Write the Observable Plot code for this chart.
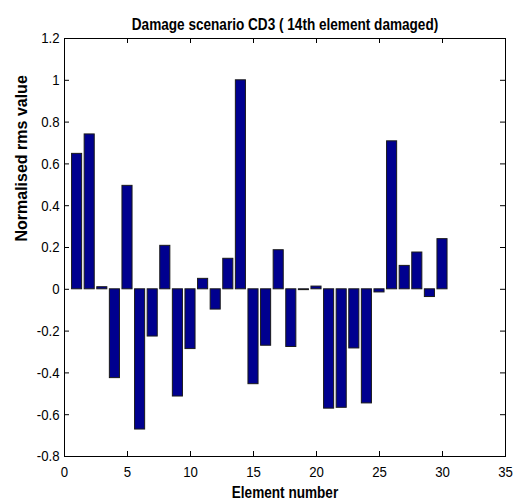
<!DOCTYPE html>
<html>
<head>
<meta charset="utf-8">
<script src="https://cdn.jsdelivr.net/npm/d3@7"></script>
<script src="https://cdn.jsdelivr.net/npm/@observablehq/plot@0.6"></script>
<style>
  body { margin: 0; background: #fff; }
</style>
</head>
<body>
<div id="chart"></div>
<script>
// Normalised rms value for each element, damage scenario CD3
const elements = [1, 2, 3, 4, 5, 6, 7, 8, 9, 10, 11, 12, 13, 14, 15,
                  16, 17, 18, 19, 20, 21, 22, 23, 24, 25, 26, 27, 28, 29, 30];
const rmsValues = [0.648, 0.741, 0.010, -0.425, 0.495, -0.671, -0.226, 0.208, -0.513, -0.286,
                   0.050, -0.097, 0.146, 1.000, -0.454, -0.270, 0.187, -0.276, -0.004, 0.013,
                   -0.571, -0.567, -0.283, -0.546, -0.015, 0.708, 0.112, 0.176, -0.037, 0.240];
const xTicks = [0, 5, 10, 15, 20, 25, 30, 35];
const yTicks = [-0.8, -0.6, -0.4, -0.2, 0, 0.2, 0.4, 0.6, 0.8, 1, 1.2];
const titleText = "Damage scenario CD3 ( 14th element damaged)";
const xLabel = "Element number";
const yLabel = "Normalised rms value";

const bars = elements.map((element, i) => ({element, value: rmsValues[i]}));
const barWidth = 0.8;
const tickLen = 5;
const [xMin, xMax] = [xTicks[0], xTicks[xTicks.length - 1]];
const [yMin, yMax] = [yTicks[0], yTicks[yTicks.length - 1]];

const sans = "'Liberation Sans', Arial, sans-serif";

const chart = Plot.plot({
  width: 514,
  height: 502,
  marginTop: 38,
  marginRight: 9,
  marginBottom: 46,
  marginLeft: 64,
  style: {background: "white", color: "black", fontFamily: sans, fontSize: "15px"},
  x: {domain: [xMin, xMax], ticks: xTicks, tickSize: 0, tickPadding: 10, tickFormat: d => String(d), label: null},
  y: {domain: [yMin, yMax], ticks: yTicks, tickSize: 0, tickPadding: 5,
      tickFormat: d => String(Math.round(d * 10) / 10), label: null},
  marks: [
    Plot.rectY(bars, {
      x1: d => d.element - barWidth / 2,
      x2: d => d.element + barWidth / 2,
      y1: 0,
      y2: "value",
      fill: "#00008f",
      stroke: "#1a1a1a",
      strokeWidth: 1
    }),
    // inward tick marks on all four sides of the box
    Plot.ruleX(xTicks, {x: d => d, y1: yMin, y2: yMin, insetTop: -tickLen, stroke: "black"}),
    Plot.ruleX(xTicks, {x: d => d, y1: yMax, y2: yMax, insetBottom: -tickLen, stroke: "black"}),
    Plot.ruleY(yTicks, {y: d => d, x1: xMin, x2: xMin, insetRight: -tickLen, stroke: "black"}),
    Plot.ruleY(yTicks, {y: d => d, x1: xMax, x2: xMax, insetLeft: -tickLen, stroke: "black"}),
    Plot.frame({stroke: "black"}),
    Plot.text([titleText], {frameAnchor: "top", lineAnchor: "middle", dy: -13.5,
                            fontWeight: "bold", fontSize: 17, className: "narrow-label"}),
    Plot.text([xLabel], {frameAnchor: "bottom", lineAnchor: "middle", dy: 36,
                         fontWeight: "bold", fontSize: 17, className: "narrow-label"}),
    Plot.text([yLabel], {frameAnchor: "left", lineAnchor: "middle", dx: -43, dy: -6, rotate: -90,
                         fontWeight: "bold", fontSize: 16})
  ]
});

// condensed lettering: squeeze glyphs horizontally about each text's anchor point
function condense(selection, factor) {
  selection.each(function () {
    const t = this.getAttribute("transform") || "";
    this.setAttribute("transform", `${t} scale(${factor},1)`);
  });
}
condense(d3.select(chart).selectAll('g[aria-label="x-axis tick label"] text, g[aria-label="y-axis tick label"] text'), 0.88);
condense(d3.select(chart).selectAll(".narrow-label text"), 0.8);

document.getElementById("chart").appendChild(chart);
</script>
</body>
</html>
